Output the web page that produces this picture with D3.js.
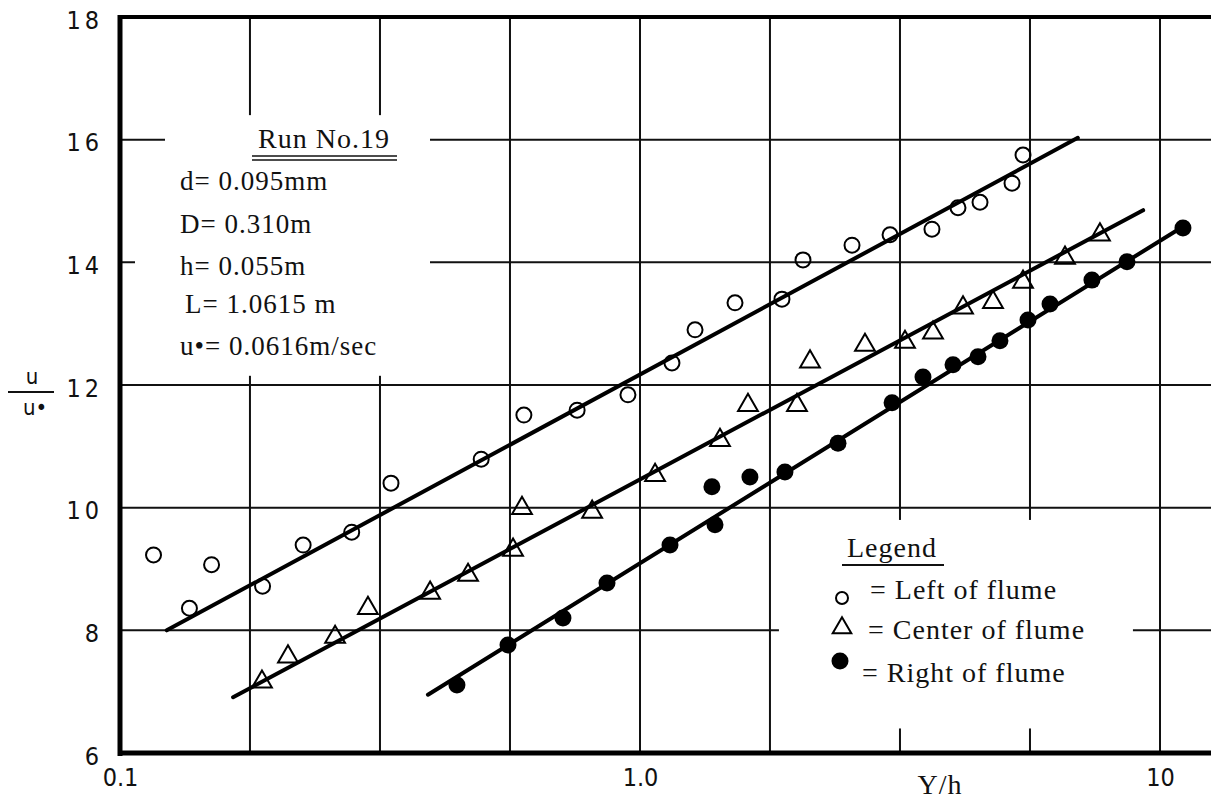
<!DOCTYPE html>
<html><head><meta charset="utf-8">
<script src="https://cdn.jsdelivr.net/npm/d3@7"></script>
<style>body{margin:0;background:#fff} svg{display:block}</style>
</head><body><svg id="chart" width="1211" height="801"></svg>
<script>
// ---------- data ----------
const leftX  = [0.116,0.136,0.150,0.188,0.225,0.279,0.332,0.495,0.598,0.757,0.948,1.152,1.276,1.523,1.875,2.058,2.557,3.026,3.643,4.088,4.507,5.193,5.452];
const leftY  = [9.23,8.36,9.07,8.72,9.39,9.60,10.40,10.79,11.51,11.59,11.84,12.36,12.90,13.34,13.40,14.04,14.28,14.45,14.54,14.89,14.98,15.29,15.75];
const centerX = [0.1875,0.2104,0.2592,0.2998,0.3948,0.467,0.570,0.593,0.809,1.069,1.425,1.613,2.004,2.123,2.708,3.233,3.660,4.18,4.774,5.452,6.566,7.665];
const centerY = [7.16,7.57,7.89,8.36,8.61,8.90,9.31,9.99,9.93,10.53,11.10,11.67,11.67,12.38,12.65,12.70,12.85,13.26,13.35,13.68,14.07,14.45];
const rightX = [0.4446,0.5574,0.711,0.864,1.142,1.394,1.375,1.627,1.900,2.403,3.053,3.501,3.999,4.467,4.923,5.574,6.145,7.398,8.640,11.07];
const rightY = [7.11,7.76,8.20,8.77,9.39,9.72,10.34,10.50,10.58,11.05,11.71,12.13,12.33,12.46,12.72,13.06,13.32,13.71,14.01,14.56];
// fitted straight lines (end points)
const leftFitX = [0.123, 6.95],  leftFitY = [8.0, 16.03];
const centerFitX = [0.165, 9.28], centerFitY = [6.91, 14.85];
const rightFitX = [0.391, 11.3], rightFitY = [6.95, 14.63];
// axes
const yTicks = [6, 8, 10, 12, 14, 16, 18];
const yTickLabels = ["6", "8", "10", "12", "14", "16", "18"];
const xTicks = [0.1, 1, 10];
const xTickLabels = ["0.1", "1.0", "10"];
const xGrid = [0.1778, 0.3162, 0.5623, 1, 1.778, 3.162, 5.623, 10];
const yGrid = [8, 10, 12, 14, 16];
const infoTitle = "Run No.19";
const infoLines = ["d= 0.095mm", "D= 0.310m", "h= 0.055m", "L= 1.0615 m", "u\u2022= 0.0616m/sec"];
const legendTitle = "Legend";
const legendItems = ["= Left of flume", "= Center of flume", "= Right of flume"];

// ---------- drawing ----------
const svg = d3.select("#chart");
const W = 1211;
const x = d3.scaleLog().domain([0.1, 10]).range([120, 1160]);
const y = d3.scaleLinear().domain([6, 18]).range([753, 17]);
const xMax = x.invert(W);

const g = svg.append("g");
// grid
g.selectAll(".vg").data(xGrid).join("line")
  .attr("x1", d => x(d)).attr("x2", d => x(d)).attr("y1", y(18)).attr("y2", y(6))
  .attr("stroke", "#111").attr("stroke-width", 2);
g.selectAll(".hg").data(yGrid).join("line")
  .attr("x1", x(0.1)).attr("x2", x(xMax)).attr("y1", d => y(d)).attr("y2", d => y(d))
  .attr("stroke", "#111").attr("stroke-width", 2);

// white masks behind the annotation blocks
g.append("rect").attr("x", x(0.1) + 45).attr("y", y(16.4)).attr("width", 265).attr("height", y(12.15) - y(16.4)).attr("fill", "#fff");
g.append("rect").attr("x", x(0.1) + 15).attr("y", y(14.2)).attr("width", 60).attr("height", y(13.8) - y(14.2)).attr("fill", "#fff");
g.append("rect").attr("x", x(1.85)).attr("y", y(9.8)).attr("width", 354).attr("height", y(6.4) - y(9.8)).attr("fill", "#fff");

// frame
g.append("line").attr("x1", x(0.1) - 2).attr("x2", x(xMax)).attr("y1", y(18)).attr("y2", y(18)).attr("stroke", "#000").attr("stroke-width", 4);
g.append("line").attr("x1", x(0.1)).attr("x2", x(0.1)).attr("y1", y(18) - 2).attr("y2", y(6) + 3).attr("stroke", "#000").attr("stroke-width", 5);
g.append("line").attr("x1", x(0.1) - 2).attr("x2", x(xMax)).attr("y1", y(6)).attr("y2", y(6)).attr("stroke", "#000").attr("stroke-width", 5);

// axes labels via d3 axes
const sansN = "'Liberation Sans Narrow','DejaVu Sans Condensed',sans-serif";
const yAxis = d3.axisLeft(y).tickValues(yTicks).tickSize(0).tickPadding(0)
  .tickFormat((d, i) => yTickLabels[i]);
const ya = svg.append("g").attr("transform", "translate(103,3)").call(yAxis);
ya.select(".domain").remove();
ya.selectAll("text").attr("font-family", sansN)
  .attr("font-size", 25).attr("letter-spacing", 4).attr("fill", "#111");

const xAxis = d3.axisBottom(x).tickValues(xTicks).tickSize(0).tickPadding(0)
  .tickFormat((d, i) => xTickLabels[i]);
const xa = svg.append("g").attr("transform", "translate(0,768)").call(xAxis);
xa.select(".domain").remove();
xa.selectAll("text").attr("font-family", sansN)
  .attr("font-size", 25).attr("fill", "#111");

const serif = "'Liberation Serif','Times New Roman',serif";
svg.append("text").attr("x", 940).attr("y", 794).attr("text-anchor", "middle")
  .attr("font-family", serif).attr("font-size", 28).attr("letter-spacing", 1).attr("fill", "#111").text("Y/h");

// y label u / u*
svg.append("text").attr("x", 32).attr("y", 384).attr("text-anchor", "middle")
  .attr("font-family", sansN).attr("font-size", 22).attr("fill", "#111").text("u");
svg.append("line").attr("x1", 8).attr("x2", 54).attr("y1", 392).attr("y2", 392).attr("stroke", "#111").attr("stroke-width", 2);
svg.append("text").attr("x", 35).attr("y", 415).attr("text-anchor", "middle")
  .attr("font-family", sansN).attr("font-size", 22).attr("fill", "#111").text("u\u2022");

// fitted lines
const lineGen = d3.line().x(d => x(d[0])).y(d => y(d[1]));
[[leftFitX, leftFitY], [centerFitX, centerFitY], [rightFitX, rightFitY]].forEach(([fx, fy]) => {
  svg.append("path").datum(fx.map((v, i) => [v, fy[i]])).attr("d", lineGen)
    .attr("fill", "none").attr("stroke", "#000").attr("stroke-width", 4).attr("stroke-linecap", "round");
});

// points
svg.selectAll(".lp").data(leftX.map((v, i) => [v, leftY[i]])).join("circle")
  .attr("cx", d => x(d[0])).attr("cy", d => y(d[1])).attr("r", 7.5)
  .attr("fill", "none").attr("stroke", "#000").attr("stroke-width", 2);
const tri = d3.symbol(d3.symbolTriangle, 170);
svg.selectAll(".cp").data(centerX.map((v, i) => [v, centerY[i]])).join("path")
  .attr("transform", d => `translate(${x(d[0])},${y(d[1])})`).attr("d", tri)
  .attr("fill", "none").attr("stroke", "#000").attr("stroke-width", 2);
svg.selectAll(".rp").data(rightX.map((v, i) => [v, rightY[i]])).join("circle")
  .attr("cx", d => x(d[0])).attr("cy", d => y(d[1])).attr("r", 8.5).attr("fill", "#000");

// info block
svg.append("text").attr("x", 258).attr("y", 148).attr("font-family", serif).attr("font-size", 28).attr("letter-spacing", 1).attr("fill", "#111").text(infoTitle);
svg.append("line").attr("x1", 252).attr("x2", 397).attr("y1", 156).attr("y2", 156).attr("stroke", "#111").attr("stroke-width", 1.5);
svg.append("line").attr("x1", 252).attr("x2", 397).attr("y1", 160).attr("y2", 160).attr("stroke", "#111").attr("stroke-width", 1.5);
const infoBase = [190, 233, 275, 313, 355];
const infoX = [180, 180, 180, 185, 180];
svg.selectAll(".info").data(infoLines).join("text")
  .attr("x", (d, i) => infoX[i]).attr("y", (d, i) => infoBase[i])
  .attr("font-family", serif).attr("font-size", 27).attr("letter-spacing", 1).attr("fill", "#111").text(d => d);

// legend
svg.append("text").attr("x", 847).attr("y", 557).attr("font-family", serif).attr("font-size", 28).attr("letter-spacing", 1).attr("fill", "#111").text(legendTitle);
svg.append("line").attr("x1", 842).attr("x2", 944).attr("y1", 565).attr("y2", 565).attr("stroke", "#111").attr("stroke-width", 2);
const legBase = [599, 639, 682];
const legTextX = [870, 868, 862];
svg.selectAll(".leg").data(legendItems).join("text")
  .attr("x", (d, i) => legTextX[i]).attr("y", (d, i) => legBase[i])
  .attr("font-family", serif).attr("font-size", 28).attr("letter-spacing", 1).attr("fill", "#111").text(d => d);
svg.append("circle").attr("cx", 842).attr("cy", 598).attr("r", 6).attr("fill", "none").attr("stroke", "#000").attr("stroke-width", 2);
svg.append("path").attr("transform", "translate(842,628)").attr("d", d3.symbol(d3.symbolTriangle, 150)).attr("fill", "none").attr("stroke", "#000").attr("stroke-width", 2);
svg.append("circle").attr("cx", 840).attr("cy", 661).attr("r", 8.5).attr("fill", "#000");
</script></body></html>
